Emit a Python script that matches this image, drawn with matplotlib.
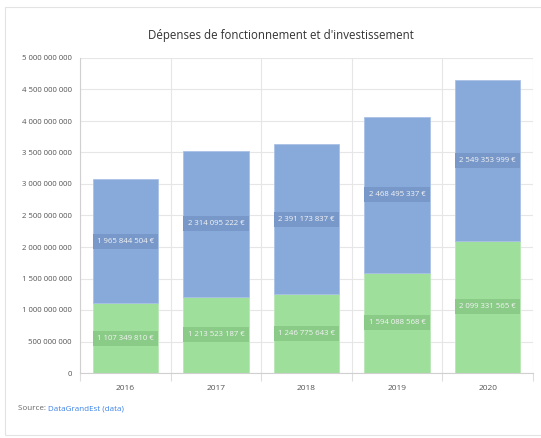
import numpy as np
import matplotlib
matplotlib.use('Agg')
import matplotlib.pyplot as plt
from matplotlib.ticker import FuncFormatter, FixedLocator
from matplotlib.patches import Rectangle

years = ['2016', '2017', '2018', '2019', '2020']
green_vals = [1107349810, 1213523187, 1246775643, 1594088568, 2099331565]
blue_vals = [1965844504, 2314095222, 2391173837, 2468495337, 2549353999]

blue = '#88aadb'
green = '#9fdf9c'
bw = 0.72

def fmt(v):
    return '{:,}'.format(int(v)).replace(',', ' ')

plt.rcParams['font.family'] = ['Open Sans', 'DejaVu Sans']

fig = plt.figure(figsize=(5.41, 4.38), dpi=100)
fig.patches.append(Rectangle((5 / 541, 3 / 438), 1.0, 428 / 438, transform=fig.transFigure,
                             facecolor='white', edgecolor='#e3e3e3', linewidth=0.8, zorder=-5))
ax = fig.add_axes([80 / 541, 65 / 438, 453 / 541, 315 / 438])
ax.patch.set_alpha(0)

x = np.arange(len(years))
g = np.array(green_vals)
b = np.array(blue_vals)
ax.bar(x, g, width=bw, color=green, edgecolor='#b9e8b6', linewidth=0.6, zorder=2)
ax.bar(x, b, width=bw, bottom=g, color=blue, edgecolor='#a9c2e6', linewidth=0.6, zorder=2)

# label boxes: full bar width, ~15 px high
box_h = 15 / 315 * 5e9
for i in range(len(years)):
    for yc, v, bg in [(g[i] / 2, g[i], '#8acb88'), (g[i] + b[i] / 2, b[i], '#7898c9')]:
        ax.add_patch(Rectangle((x[i] - bw / 2, yc - box_h / 2), bw, box_h,
                               facecolor=bg, edgecolor='none', zorder=3))
        ax.text(x[i], yc, fmt(v) + ' €', ha='center', va='center', fontsize=5.6,
                color='#f4f4f4', zorder=4)

ax.set_xlim(-0.5, len(years) - 0.5)
ax.set_ylim(0, 5e9)
ax.yaxis.set_major_locator(FixedLocator(np.arange(0, 5.01e9, 5e8)))
ax.yaxis.set_major_formatter(FuncFormatter(lambda v, p: fmt(v)))
ax.set_xticks(x)
ax.set_xticklabels(years)
ax.xaxis.set_minor_locator(FixedLocator(np.arange(-0.5, len(years), 1.0)))
ax.tick_params(axis='x', which='major', length=0, pad=9, labelsize=6, labelcolor='#555555')
ax.tick_params(axis='x', which='minor', length=6, color='#dddddd', width=0.8)
ax.tick_params(axis='y', length=0, pad=6, labelsize=5.6, labelcolor='#555555')
ax.grid(axis='y', color='#e6e6e6', linewidth=0.8, zorder=0)
ax.grid(axis='x', which='minor', color='#e6e6e6', linewidth=0.8, zorder=0)
ax.set_axisbelow(True)
for s in ['top', 'right']:
    ax.spines[s].set_visible(False)
ax.spines['left'].set_color('#d0d0d0')
ax.spines['bottom'].set_color('#d0d0d0')
ax.spines['left'].set_linewidth(0.8)
ax.spines['bottom'].set_linewidth(0.8)

fig.text(0.5 + 10 / 541, 1 - 36 / 438, "Dépenses de fonctionnement et d'investissement",
         ha='center', va='center', fontsize=8.3, color='#333333')
t = fig.text(18 / 541, 1 - 409 / 438, 'Source: ', ha='left', va='center', fontsize=5.8, color='#666666')
fig.canvas.draw()
bb = t.get_window_extent()
fig.text(bb.x1 / 541, 1 - 409 / 438, 'DataGrandEst (data)', ha='left', va='center',
         fontsize=5.8, color='#3b82e6')

fig.savefig('out.png', dpi=100)
